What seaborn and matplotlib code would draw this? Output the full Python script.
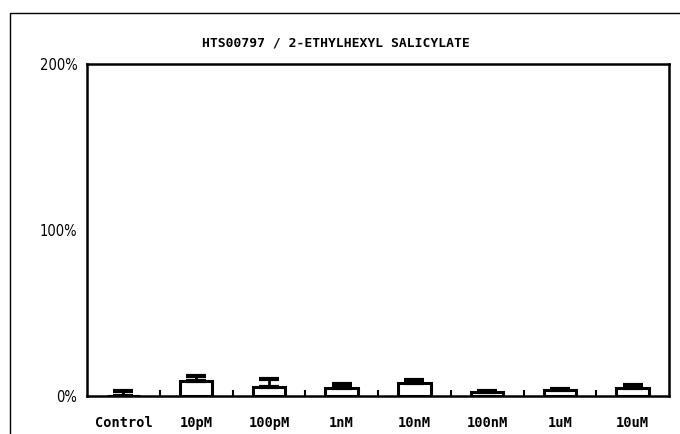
import matplotlib
matplotlib.use("Agg")
import matplotlib.pyplot as plt
import seaborn as sns
import pandas as pd
from matplotlib.patches import Rectangle

categories = ["Control", "10pM", "100pM", "1nM", "10nM", "100nM", "1uM", "10uM"]
values = [0.3, 9, 5.5, 5, 8, 2.5, 3.5, 5]
errors = [3, 3, 4.5, 2.5, 1.5, 0.5, 0.5, 1.5]
yticks = [0, 100, 200]
ytick_labels = ["0%", "100%", "200%"]
title = "HTS00797 / 2-ETHYLHEXYL SALICYLATE"

sns.set_theme(style="white")
plt.rcParams['font.family'] = ['DejaVu Sans Mono', 'DejaVu Sans']
plt.rcParams['text.color'] = 'black'
plt.rcParams['xtick.color'] = 'black'
plt.rcParams['ytick.color'] = 'black'

df = pd.DataFrame({"cat": categories, "val": values, "err": errors})

fig = plt.figure(figsize=(6.8, 4.34), dpi=100)
ax = fig.add_axes([87/680, 1-396/434, 582/680, 332/434])
sns.barplot(data=df, x="cat", y="val", ax=ax, color="white", edgecolor="black",
            linewidth=2.2, width=0.45, errorbar=None)
for i, (v, e) in enumerate(zip(values, errors)):
    ax.errorbar(i, v, yerr=[[0], [e]], color="black", capsize=7, capthick=3, elinewidth=2)
ax.set_ylim(0, 200)
ax.set_xlim(-0.5, 7.5)
ax.set_yticks(yticks)
ax.set_yticklabels(ytick_labels, fontsize=10.5, family="DejaVu Sans", stretch="condensed",
                   color="black")
ax.set_xticks(range(len(categories)))
ax.set_xticklabels(categories, fontsize=9.8, family="DejaVu Sans Mono", weight="bold",
                   color="black")
ax.set_xticks([i + 0.5 for i in range(len(categories) - 1)], minor=True)
ax.tick_params(axis="x", which="major", length=0, pad=14.5)
ax.tick_params(axis="x", which="minor", length=4, width=1.5, direction="in", color="black", bottom=True)
ax.tick_params(axis="y", length=0, pad=7)
ax.set_xlabel("")
ax.set_ylabel("")
for s in ax.spines.values():
    s.set_color("black")
    s.set_linewidth(1.8)
fig.text(336/680, 1 - 43/434, title, fontsize=9.4, family="DejaVu Sans Mono", weight="bold",
         ha="center", va="center", color="black")

fig.patches.append(Rectangle((10/680, -0.01), 1.0, 1 - 13/434 + 0.01,
                             transform=fig.transFigure, fill=False, edgecolor="black", linewidth=1.0))
fig.savefig("out.png", dpi=100)
